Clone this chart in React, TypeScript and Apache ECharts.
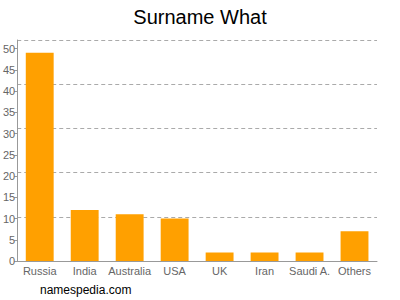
import React, { useEffect, useRef } from "react";
import * as echarts from "echarts";

const categories = ["Russia", "India", "Australia", "USA", "UK", "Iran", "Saudi A.", "Others"];
const values = [49, 12, 11, 10, 2, 2, 2, 7];
const yMax = 52;

export default function App() {
  const ref = useRef<HTMLDivElement>(null);
  useEffect(() => {
    const chart = echarts.init(ref.current!, null, { renderer: "svg" });
    chart.setOption({
      animation: false,
      title: {
        text: "Surname What",
        left: "center",
        top: 2,
        textStyle: { fontFamily: "Liberation Sans, Arial, sans-serif", fontSize: 20, fontWeight: "normal", color: "#000" },
      },
      graphic: [
        {
          type: "text",
          left: 40,
          top: 284,
          style: { text: "namespedia.com", fontFamily: "Liberation Sans, Arial, sans-serif", fontSize: 12, fill: "#000" },
        },
      ],
      grid: { left: 17, right: 23, top: 40, bottom: 39 },
      xAxis: {
        type: "category",
        data: categories,
        axisLine: { lineStyle: { color: "#999" } },
        axisTick: { show: false },
        axisLabel: { interval: 0, hideOverlap: false, color: "#666", fontSize: 11, fontFamily: "Liberation Sans, Arial, sans-serif", margin: 4 },
      },
      yAxis: [
        {
          type: "value",
          min: 0,
          max: yMax,
          interval: 5,
          axisLine: { show: true, lineStyle: { color: "#999" } },
          axisTick: { show: true, length: 3, lineStyle: { color: "#999" } },
          axisLabel: { color: "#666", fontSize: 11, fontFamily: "Liberation Sans, Arial, sans-serif", margin: 2, showMaxLabel: false },
          splitLine: { show: false },
        },
        {
          type: "value",
          min: 0,
          max: yMax,
          interval: yMax / 5,
          position: "left",
          axisLine: { show: false },
          axisTick: { show: false },
          axisLabel: { show: false },
          splitLine: { show: true, lineStyle: { color: "#aaa", type: [4, 3], width: 1 } },
        },
      ],
      series: [
        {
          type: "bar",
          data: values,
          yAxisIndex: 0,
          barWidth: "62%",
          itemStyle: { color: "#FFA000" },
        },
      ],
    });
    return () => chart.dispose();
  }, []);
  return <div ref={ref} style={{ width: 400, height: 300, position: "absolute", left: 0, top: 0 }} />;
}
